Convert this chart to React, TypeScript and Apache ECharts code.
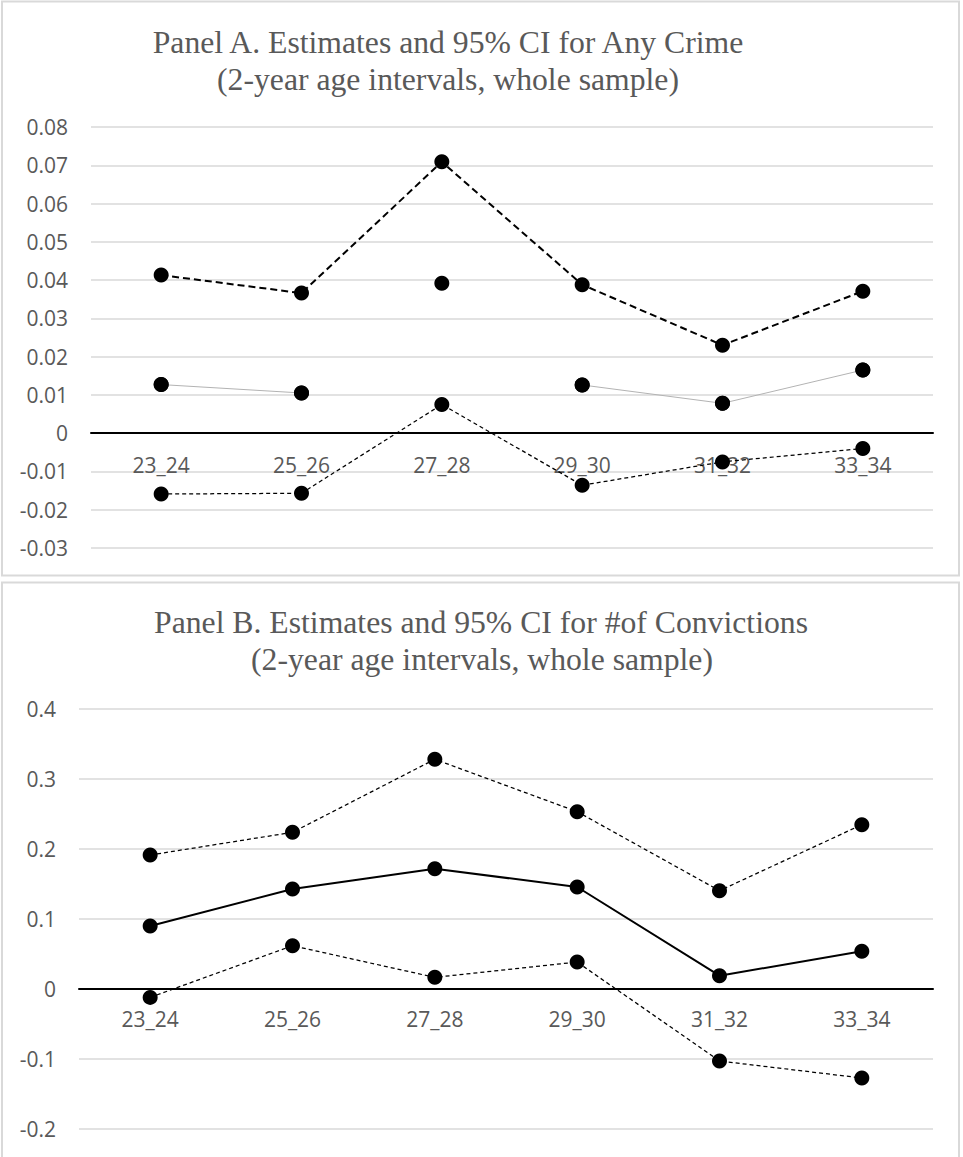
import React, { useEffect, useRef } from "react";
import * as echarts from "echarts";

const categories = ["23_24", "25_26", "27_28", "29_30", "31_32", "33_34"];

// Panel A: Any Crime
const upperA = [0.0413, 0.0366, 0.0709, 0.0388, 0.023, 0.0371];
const estimateA = [0.0127, 0.0105, 0.0392, 0.0126, 0.0078, 0.0165];
const lowerA = [-0.0159, -0.0157, 0.0075, -0.0136, -0.0075, -0.004];
const unlinkedEstimateCategoryA = "27_28";

// Panel B: # of Convictions
const upperB = [0.191, 0.2234, 0.3277, 0.2529, 0.14, 0.2343];
const estimateB = [0.0896, 0.1424, 0.1714, 0.1453, 0.0186, 0.0534];
const lowerB = [-0.0124, 0.0614, 0.0162, 0.0381, -0.1033, -0.1276];

const axisA = { min: -0.03, max: 0.08, interval: 0.01 };
const axisB = { min: -0.2, max: 0.4, interval: 0.1 };

const titleA = ["Panel A. Estimates and 95% CI for Any Crime", "(2-year age intervals, whole sample)"];
const titleB = ["Panel B. Estimates and 95% CI for #of Convictions", "(2-year age intervals, whole sample)"];

const GRID_GRAY = "#d9d9d9";
const TEXT_GRAY = "#595959";
const LABEL_FONT = "'Open Sans', 'Noto Sans', sans-serif";
const TITLE_FONT = "'Liberation Serif', 'DejaVu Serif', serif";
const LABEL_SIZE = 21;

export default function App() {
  const ref = useRef<HTMLDivElement>(null);

  useEffect(() => {
    if (!ref.current) return;
    const chart = echarts.init(ref.current, undefined, { renderer: "svg" });

    const marker = {
      symbol: "circle",
      symbolSize: 15,
      itemStyle: { color: "#000", opacity: 1 },
    };

    const yAxisBase = (gridIndex: number, ax: { min: number; max: number; interval: number }) => ({
      type: "value" as const,
      gridIndex,
      min: ax.min,
      max: ax.max,
      interval: ax.interval,
      axisLine: { show: false },
      axisTick: { show: false },
      splitLine: { show: true, lineStyle: { color: GRID_GRAY, width: 1.5 } },
      axisLabel: { color: TEXT_GRAY, fontSize: LABEL_SIZE, fontFamily: LABEL_FONT, margin: 23 },
    });

    const xAxisBase = (gridIndex: number) => ({
      type: "category" as const,
      gridIndex,
      data: categories,
      boundaryGap: true,
      axisLine: { show: true, onZero: true, lineStyle: { color: "#000", width: 2 } },
      axisTick: { show: false },
      splitLine: { show: false },
      axisLabel: { show: false },
    });

    // category labels hung just below the zero line
    const zeroLabels = (idx: number, distance: number) => ({
      type: "scatter",
      name: "labels" + idx,
      xAxisIndex: idx,
      yAxisIndex: idx,
      data: categories.map((c) => [c, 0]),
      symbol: "circle",
      symbolSize: 1,
      itemStyle: { color: "rgba(255,255,255,0)", opacity: 1 },
      silent: true,
      z: 1,
      label: {
        show: true,
        position: "bottom",
        distance,
        opacity: 1,
        formatter: (p: any) => categories[p.dataIndex],
        color: TEXT_GRAY,
        fontSize: LABEL_SIZE,
        fontFamily: LABEL_FONT,
      },
      labelLayout: { hideOverlap: false },
      emphasis: { disabled: true },
    });

    const titleText = (text: string, x: number, y: number) => ({
      type: "text",
      x,
      y,
      style: {
        text,
        fontSize: 31.7,
        fontFamily: TITLE_FONT,
        fill: TEXT_GRAY,
        textAlign: "center",
        textVerticalAlign: "middle",
      },
    });

    const estimateLineA = estimateA.map((v, i) =>
      categories[i] === unlinkedEstimateCategoryA ? null : v
    );

    chart.setOption({
      animation: false,
      backgroundColor: "#fff",
      graphic: [
        {
          type: "rect",
          shape: { x: 2, y: 1.5, width: 957, height: 574 },
          style: { fill: "none", stroke: GRID_GRAY, lineWidth: 2 },
        },
        {
          type: "rect",
          shape: { x: 2, y: 582.5, width: 957, height: 580 },
          style: { fill: "none", stroke: GRID_GRAY, lineWidth: 2 },
        },
        titleText(titleA[0], 448, 42),
        titleText(titleA[1], 448, 79),
        titleText(titleB[0], 481, 622),
        titleText(titleB[1], 482, 659),
      ],
      grid: [
        { left: 91, top: 127, width: 842, height: 421 },
        { left: 79, top: 708.7, width: 854, height: 420 },
      ],
      xAxis: [xAxisBase(0), xAxisBase(1)],
      yAxis: [yAxisBase(0, axisA), yAxisBase(1, axisB)],
      series: [
        zeroLabels(0, 21),
        zeroLabels(1, 19),
        {
          type: "line",
          name: "Upper A",
          xAxisIndex: 0,
          yAxisIndex: 0,
          data: upperA,
          ...marker,
          lineStyle: { color: "#000", width: 2, type: [7, 4] },
          z: 3,
        },
        {
          type: "line",
          name: "Estimate A",
          xAxisIndex: 0,
          yAxisIndex: 0,
          data: estimateLineA,
          connectNulls: false,
          ...marker,
          lineStyle: { color: "#b3b3b3", width: 1 },
          z: 3,
        },
        {
          type: "scatter",
          name: "Estimate A points",
          xAxisIndex: 0,
          yAxisIndex: 0,
          data: estimateA,
          ...marker,
          z: 4,
        },
        {
          type: "line",
          name: "Lower A",
          xAxisIndex: 0,
          yAxisIndex: 0,
          data: lowerA,
          ...marker,
          lineStyle: { color: "#000", width: 1.25, type: [4, 3] },
          z: 3,
        },
        {
          type: "line",
          name: "Upper B",
          xAxisIndex: 1,
          yAxisIndex: 1,
          data: upperB,
          ...marker,
          lineStyle: { color: "#000", width: 1.25, type: [4, 3] },
          z: 3,
        },
        {
          type: "line",
          name: "Estimate B",
          xAxisIndex: 1,
          yAxisIndex: 1,
          data: estimateB,
          ...marker,
          lineStyle: { color: "#000", width: 2 },
          z: 3,
        },
        {
          type: "line",
          name: "Lower B",
          xAxisIndex: 1,
          yAxisIndex: 1,
          data: lowerB,
          ...marker,
          lineStyle: { color: "#000", width: 1.25, type: [4, 3] },
          z: 3,
        },
      ],
    });

    return () => chart.dispose();
  }, []);

  return (
    <div
      ref={ref}
      style={{ position: "absolute", left: 0, top: 0, width: 963, height: 1157 }}
    />
  );
}
